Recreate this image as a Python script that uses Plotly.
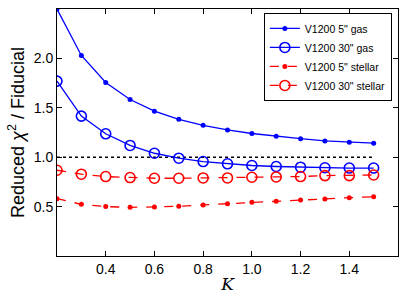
import plotly.graph_objects as go

K = [0.2, 0.3, 0.4, 0.5, 0.6, 0.7, 0.8, 0.9, 1.0, 1.1, 1.2, 1.3, 1.4, 1.5]
gas5 = [2.50, 2.03, 1.757, 1.584, 1.466, 1.384, 1.323, 1.276, 1.24, 1.212, 1.188, 1.165, 1.152, 1.142]
gas30 = [1.77, 1.416, 1.237, 1.119, 1.04, 0.99, 0.956, 0.933, 0.916, 0.906, 0.899, 0.893, 0.89, 0.89]
stel5 = [0.58, 0.523, 0.50, 0.493, 0.497, 0.503, 0.517, 0.53, 0.544, 0.554, 0.568, 0.578, 0.59, 0.60]
stel30 = [0.868, 0.828, 0.804, 0.794, 0.787, 0.787, 0.79, 0.79, 0.797, 0.80, 0.804, 0.814, 0.814, 0.82]
ref_x = [0.2, 1.5]
ref_y = [1.0, 1.0]

fig = go.Figure()
fig.add_trace(go.Scatter(x=ref_x, y=ref_y, mode="lines", showlegend=False,
                         line=dict(color="black", width=1.5, dash="dot")))
fig.add_trace(go.Scatter(x=K, y=gas5, mode="lines+markers", name='V1200 5" gas',
                         line=dict(color="#0000ff", width=1.3),
                         marker=dict(symbol="circle", size=5, color="#0000ff")))
fig.add_trace(go.Scatter(x=K, y=gas30, mode="lines+markers", name='V1200 30" gas',
                         line=dict(color="#0000ff", width=1.3),
                         marker=dict(symbol="circle-open", size=10, color="#0000ff", line=dict(width=1.6))))
fig.add_trace(go.Scatter(x=K, y=stel5, mode="lines+markers", name='V1200 5" stellar',
                         line=dict(color="#ff0000", width=1.3, dash="dash"),
                         marker=dict(symbol="circle", size=5, color="#ff0000")))
fig.add_trace(go.Scatter(x=K, y=stel30, mode="lines+markers", name='V1200 30" stellar',
                         line=dict(color="#ff0000", width=1.3, dash="dash"),
                         marker=dict(symbol="circle-open", size=10, color="#ff0000", line=dict(width=1.6))))

axis_common = dict(showgrid=False, zeroline=False, showline=True, linecolor="black", linewidth=1,
                   mirror="allticks", ticks="inside", ticklen=5, tickcolor="black", tickwidth=1,
                   automargin=False, ticklabelposition="outside",
                   tickfont=dict(family="Liberation Sans, Arial", size=14, color="black"))

fig.update_layout(
    width=407, height=305,
    margin=dict(l=57, r=9, t=9, b=49),
    paper_bgcolor="white", plot_bgcolor="white",
    xaxis=dict(range=[0.2, 1.6], tickvals=[0.4, 0.6, 0.8, 1.0, 1.2, 1.4], tickformat=".1f",
               title=dict(text="<i>K</i>", font=dict(family="DejaVu Serif", size=17, color="black"), standoff=2),
               **axis_common),
    yaxis=dict(range=[0, 2.5], tickvals=[0.5, 1.0, 1.5, 2.0], tickformat=".1f",
               title=dict(text="Reduced <i>χ</i><sup>2</sup> / Fiducial",
                          font=dict(family="Liberation Sans, Arial", size=18, color="black"), standoff=4),
               **axis_common),
    legend=dict(x=0.982, y=0.984, xanchor="right", yanchor="top", bordercolor="black", borderwidth=1,
                bgcolor="white", font=dict(family="Liberation Sans, Arial", size=10.5, color="black"),
                tracegroupgap=0, itemwidth=30),
)

fig.write_html("out.html", config={"displayModeBar": False},
               post_script="document.body.style.margin='0';document.body.style.overflow='hidden';")
